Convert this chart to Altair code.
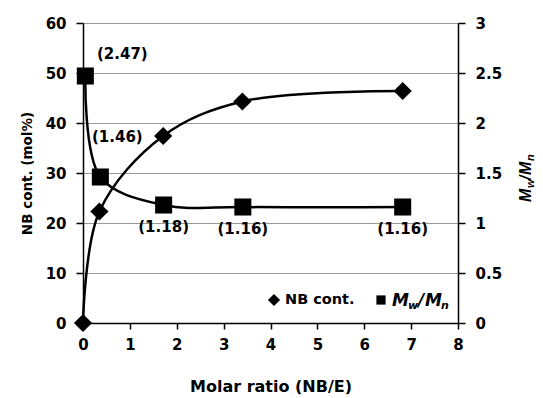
import altair as alt
import pandas as pd

# ---- data ----
molar_nb = [0.0, 0.35, 1.71, 3.40, 6.82]
nb_cont = [0.0, 22.3, 37.4, 44.3, 46.4]

molar_mw = [0.05, 0.37, 1.72, 3.41, 6.82]
mw_mn = [2.47, 1.46, 1.18, 1.16, 1.16]
mw_labels = ["(2.47)", "(1.46)", "(1.18)", "(1.16)", "(1.16)"]

x_ticks = [0, 1, 2, 3, 4, 5, 6, 7, 8]
y_left_ticks = [0, 10, 20, 30, 40, 50, 60]
y_right_ticks = [0, 0.5, 1, 1.5, 2, 2.5, 3]

df_nb = pd.DataFrame({"molar": molar_nb, "nb": nb_cont})
df_mw = pd.DataFrame({"molar": molar_mw, "mw": mw_mn, "label": mw_labels,
                      "idx": list(range(len(mw_mn)))})

HF = "DejaVu Sans"          # horizontal text
VF = "Liberation Sans"      # vertical text

x_enc = alt.X("molar:Q", scale=alt.Scale(domain=[0, 8], nice=False),
              axis=alt.Axis(values=x_ticks, title="Molar ratio (NB/E)", grid=False,
                            labelFlush=False,
                            labelFont=HF, labelFontWeight="bold", labelFontSize=15,
                            labelColor="black", labelPadding=8,
                            titleFont=HF, titleFontWeight="bold", titleFontSize=16,
                            titleColor="black", titlePadding=26,
                            tickSize=6, tickColor="black", tickWidth=1.5,
                            domainColor="black", domainWidth=1.5))

y_left = alt.Y("nb:Q", scale=alt.Scale(domain=[0, 60], nice=False),
               axis=alt.Axis(values=y_left_ticks, title="NB cont. (mol%)", grid=True,
                             labelFlush=False,
                             gridColor="#999999", gridWidth=1,
                             labelFont=HF, labelFontWeight="bold", labelFontSize=15,
                             labelColor="black", labelPadding=10,
                             titleFont=HF, titleFontWeight="bold", titleFontSize=13.5,
                             titleColor="black", titlePadding=11,
                             tickSize=7, tickColor="black", tickWidth=1.5,
                             domainColor="black", domainWidth=1.5))

y_right = alt.Y("mw:Q", scale=alt.Scale(domain=[0, 3], nice=False),
                axis=alt.Axis(values=y_right_ticks, title=None, grid=False, orient="right",
                              labelExpr="'' + datum.value", labelFlush=False,
                              labelFont=HF, labelFontWeight="bold", labelFontSize=15,
                              labelColor="black", labelPadding=10,
                              tickSize=7, tickColor="black", tickWidth=1.5,
                              domainColor="black", domainWidth=1.5))

nb_line = alt.Chart(df_nb).mark_line(color="black", strokeWidth=2.5,
                                     interpolate="catmull-rom").encode(x=x_enc, y=y_left)
nb_pts = alt.Chart(df_nb).mark_point(shape="diamond", filled=True, color="black",
                                     size=330, opacity=1).encode(x=x_enc, y=y_left)
left = alt.layer(nb_line, nb_pts)

mw_line = alt.Chart(df_mw).mark_line(color="black", strokeWidth=2.5,
                                     interpolate="catmull-rom").encode(x=x_enc, y=y_right)
mw_pts = alt.Chart(df_mw).mark_point(shape="square", filled=True, color="black",
                                     size=290, opacity=1).encode(x=x_enc, y=y_right)

def lab(cond, dx, dy):
    return alt.Chart(df_mw).transform_filter(cond).mark_text(
        font=HF, fontWeight="bold", fontSize=15, color="black", dx=dx, dy=dy,
        align="center", baseline="middle").encode(x=x_enc, y=y_right, text="label:N")

right = alt.layer(mw_line, mw_pts,
                  lab("datum.idx == 0", 37, -22),
                  lab("datum.idx == 1", 17, -40),
                  lab("datum.idx >= 2", 0, 22))

# ---- manual legend and right-axis title (pixel layout relative to plot) ----
def sym(shape, x, y, size):
    return alt.Chart(df_nb.head(1)).mark_point(shape=shape, filled=True, color="black",
                                               size=size, opacity=1).encode(
        x=alt.value(x), y=alt.value(y))

def txt(t, x, y, size, italic=False, angle=0, font=HF, baseline="middle"):
    return alt.Chart(df_nb.head(1)).mark_text(
        text=t, font=font, fontWeight="bold", fontStyle="italic" if italic else "normal",
        fontSize=size, color="black", align="left", baseline=baseline, angle=angle).encode(
        x=alt.value(x), y=alt.value(y))

legend = [
    sym("diamond", 191, 277, 150),
    txt("NB cont.", 202, 277, 14.5),
    sym("square", 298, 277, 85),
    txt("M", 309, 283, 17, True, baseline="alphabetic"),
    txt("w", 325, 286, 11, True, baseline="alphabetic"),
    txt("/", 335, 283, 17, True, baseline="alphabetic"),
    txt("M", 342, 283, 17, True, baseline="alphabetic"),
    txt("n", 358, 286, 11, True, baseline="alphabetic"),
]

# right axis title, rotated (reads bottom to top)
rt_x = 448
rt = [
    txt("M", rt_x, 179, 16, True, 270, VF, "alphabetic"),
    txt("w", rt_x + 3, 165, 11, True, 270, VF, "alphabetic"),
    txt("/", rt_x, 157, 16, True, 270, VF, "alphabetic"),
    txt("M", rt_x, 152, 16, True, 270, VF, "alphabetic"),
    txt("n", rt_x + 3, 138, 11, True, 270, VF, "alphabetic"),
]

chart = alt.layer(left, right, *legend, *rt).resolve_scale(y="independent").properties(
    width=375, height=300,
    autosize=alt.AutoSizeParams(type="none"),
    padding={"left": 75, "top": 15, "right": 77, "bottom": 74},
).configure_view(stroke="black", strokeWidth=1.5).configure(background="white")

chart.save("out.html", embed_options={"renderer": "svg", "actions": False})
